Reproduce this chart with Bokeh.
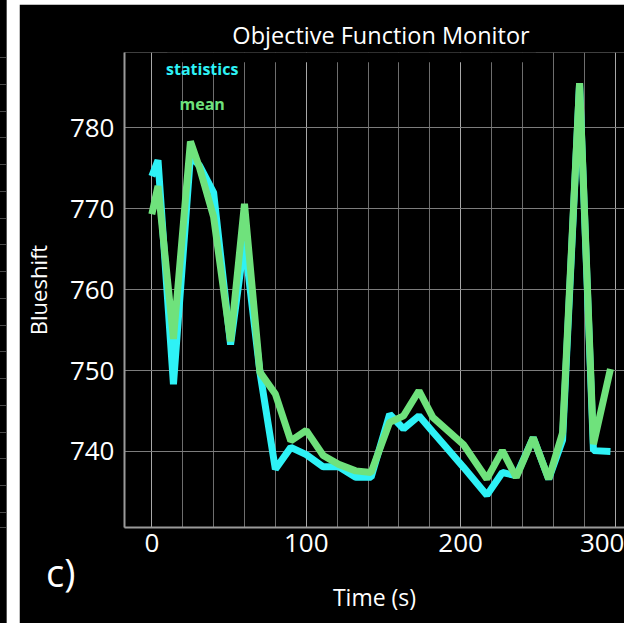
from bokeh.plotting import figure
from bokeh.models import Range1d, FixedTicker, Label, BoxAnnotation, Div, Spacer
from bokeh.layouts import row, column
from bokeh.embed import file_html
from bokeh.resources import INLINE

# Monitored objective: sample times and the two traces
time_s = [0, 4, 14, 25, 31, 40, 51, 60, 70, 80, 90, 100, 111, 121, 132, 142,
          154, 163, 173, 182, 192, 202, 217, 227, 236, 247, 257, 266, 277, 286, 297]
statistics = [774.0, 776.0, 748.3, 776.5, 775.3, 772.0, 753.2, 766.0, 749.8, 737.8,
              740.5, 739.6, 738.1, 738.1, 736.8, 736.8, 744.6, 742.8, 744.4, 742.4,
              740.2, 738.0, 734.6, 737.4, 737.0, 741.7, 736.6, 741.4, 785.5, 740.1, 740.0]
mean = [769.3, 772.8, 753.9, 778.3, 775.0, 769.0, 753.6, 770.6, 749.8, 747.1,
        741.3, 742.6, 739.5, 738.4, 737.6, 737.4, 743.6, 744.4, 747.5, 744.2,
        742.5, 740.8, 736.6, 740.1, 736.8, 741.7, 736.6, 742.3, 785.5, 740.9, 750.2]

x_ticks = [0, 100, 200, 300]
x_minor = [-20, 20, 40, 60, 80, 120, 140, 160, 180, 220, 240, 260, 280, 320]
y_ticks = [740, 750, 760, 770, 780]

FONT = "Open Sans"
CYAN = "#2ef2f6"
GREEN = "#6fe27c"

p = figure(width=605, height=619, output_backend="svg", toolbar_location=None,
           x_range=Range1d(-17.7, 306.1), y_range=Range1d(730.6, 789.3),
           min_border_left=103, min_border_right=0, min_border_top=48,
           min_border_bottom=96)
p.background_fill_color = "black"
p.border_fill_color = "black"
p.outline_line_color = None

p.line(time_s, statistics, line_color=CYAN, line_width=7)
p.line(time_s, mean, line_color=GREEN, line_width=7)

xt = FixedTicker(ticks=x_ticks, minor_ticks=x_minor)
yt = FixedTicker(ticks=y_ticks)
p.xaxis.ticker = xt
p.yaxis.ticker = yt
p.xgrid.ticker = xt
p.ygrid.ticker = yt

p.xgrid.grid_line_color = "#a8a8a8"
p.xgrid.minor_grid_line_color = "#6e6e6e"
p.ygrid.grid_line_color = "#7c7c7c"

for ax in (p.xaxis[0], p.yaxis[0]):
    ax.axis_line_color = "#9a9a9a"
    ax.axis_line_width = 2
    ax.major_tick_line_color = None
    ax.minor_tick_line_color = None
    ax.major_tick_out = 0
    ax.major_tick_in = 0
    ax.major_label_text_color = "white"
    ax.major_label_text_font = FONT
    ax.major_label_text_font_size = "26px"
    ax.axis_label_text_color = "white"
    ax.axis_label_text_font = FONT
    ax.axis_label_text_font_style = "normal"

p.xaxis.axis_label = "Time (s)"
p.xaxis.axis_label_text_font_size = "23px"
p.xaxis.major_label_standoff = 2
p.xaxis.axis_label_standoff = 26

p.yaxis.axis_label = "Blueshift"
p.yaxis.axis_label_text_font_size = "22px"
p.yaxis.major_label_standoff = 10
p.yaxis.axis_label_standoff = 14

# dark box behind the title, hiding the top of the grid
p.add_layout(BoxAnnotation(left=10, right=248.7, bottom=788.1, fill_color="black",
                           fill_alpha=1.0, line_color=None))

# the title sits in the top panel so it is not clipped to the frame
p.add_layout(Label(x=256.5, y=18, x_units="screen", y_units="screen",
                   text="Objective Function Monitor", text_align="center",
                   text_baseline="alphabetic", text_color="white",
                   text_font=FONT, text_font_size="23.5px"), "above")

p.add_layout(Label(x=32.6, y=787.3, text="statistics", text_align="center",
                   text_baseline="middle", text_color=CYAN, text_font=FONT,
                   text_font_style="bold", text_font_size="16px"))
p.add_layout(Label(x=32.6, y=782.9, text="mean", text_align="center",
                   text_baseline="middle", text_color=GREEN, text_font=FONT,
                   text_font_style="bold", text_font_size="16px"))

# neighbouring panel edge on the far left
left_strip = Div(width=7, height=623, margin=0, styles={
    "background-color": "black",
    "background-image": "linear-gradient(#4a4a4a, #4a4a4a), "
                        "repeating-linear-gradient(to bottom, #4a4a4a 0px, #4a4a4a 1px, "
                        "transparent 1px, transparent 26.75px)",
    "background-size": "6px 1px, 6px 470px",
    "background-position": "0px 527px, 0px 57px",
    "background-repeat": "no-repeat",
    "border-right": "1px solid #555",
    "box-sizing": "border-box",
})

# panel tag in the lower left corner
tag = Div(text="c)", margin=0, styles={
    "position": "absolute", "left": "46px", "top": "553px", "z-index": "10",
    "color": "white", "font-family": "Open Sans", "font-size": "38px",
    "line-height": "1", "white-space": "nowrap",
})

layout = row(left_strip, Spacer(width=12, height=623),
             column(Spacer(width=605, height=4), p, spacing=0), tag, spacing=0)

open("out.html", "w").write(file_html(layout, INLINE))
